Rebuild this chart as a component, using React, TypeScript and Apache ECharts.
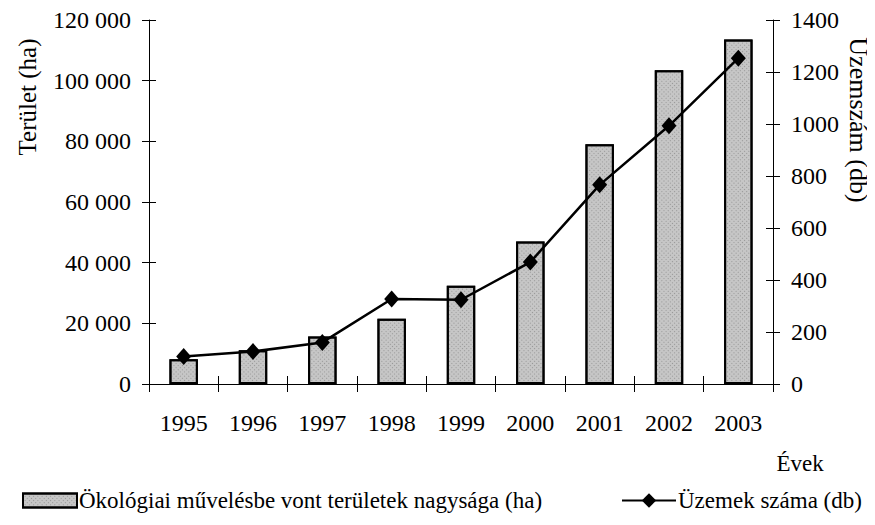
import React, { useEffect, useRef } from 'react';
import * as echarts from 'echarts';

const years = ['1995', '1996', '1997', '1998', '1999', '2000', '2001', '2002', '2003'];
const areaHa = [8200, 11100, 15700, 21500, 32400, 47000, 79000, 103400, 113600];
const farms = [106, 125, 160, 327, 324, 469, 766, 993, 1253];

const barName = 'Ökológiai művelésbe vont területek nagysága (ha)';
const lineName = 'Üzemek száma (db)';
const leftTitle = 'Terület (ha)';
const rightTitle = 'Üzemszám (db)';
const xTitle = 'Évek';

const FONT = 'Liberation Serif, Times New Roman, serif';

function fmtThousands(v: number): string {
  const s = String(Math.round(v));
  return s.replace(/\B(?=(\d{3})+(?!\d))/g, ' ');
}

export default function App() {
  const ref = useRef<HTMLDivElement>(null);
  useEffect(() => {
    if (!ref.current) return;
    const chart = echarts.init(ref.current, null, { renderer: 'svg' });
    const axisLine = { show: true, lineStyle: { color: '#000', width: 1 } };
    const grid = { left: 149, right: 102, top: 20, bottom: 141 };
    chart.setOption({
      animation: false,
      backgroundColor: '#fff',
      textStyle: { fontFamily: FONT, color: '#000' },
      grid,
      legend: [
        {
          data: [{ name: barName, icon: 'rect' }],
          left: 17,
          top: 484,
          itemWidth: 54,
          itemHeight: 14,
          itemGap: 0,
          textStyle: { fontFamily: FONT, fontSize: 23, color: '#000', padding: [0, 0, 0, -3] },
        },
        {
          data: [lineName],
          left: 616,
          top: 484,
          itemWidth: 54,
          itemHeight: 18,
          textStyle: { fontFamily: FONT, fontSize: 23, color: '#000', padding: [0, 0, 0, -3] },
        },
      ],
      xAxis: [
        {
          type: 'category',
          data: years,
          position: 'bottom',
          axisLine,
          axisTick: { show: true, length: 8, lineStyle: { color: '#000' } },
          axisLabel: { fontFamily: FONT, fontSize: 24, color: '#000', margin: 27 },
        },
        {
          type: 'category',
          data: years,
          position: 'bottom',
          axisLine: { show: false },
          axisTick: { show: true, inside: true, length: 8, lineStyle: { color: '#000' } },
          axisLabel: { show: false },
        },
      ],
      yAxis: [
        {
          type: 'value',
          min: 0,
          max: 120000,
          interval: 20000,
          position: 'left',
          axisLine,
          axisTick: { show: true, length: 7, lineStyle: { color: '#000' } },
          splitLine: { show: false },
          axisLabel: {
            fontFamily: FONT,
            fontSize: 24,
            color: '#000',
            margin: 18,
            formatter: (v: number) => fmtThousands(v),
          },
        },
        {
          type: 'value',
          min: 0,
          max: 1400,
          interval: 200,
          position: 'right',
          axisLine,
          axisTick: { show: true, length: 7, lineStyle: { color: '#000' } },
          splitLine: { show: false },
          axisLabel: {
            fontFamily: FONT,
            fontSize: 24,
            color: '#000',
            margin: 18,
            formatter: (v: number) => String(v),
          },
        },
        {
          type: 'value',
          min: 0,
          max: 120000,
          interval: 20000,
          position: 'left',
          axisLine: { show: false },
          axisTick: { show: true, inside: true, length: 7, lineStyle: { color: '#000' } },
          splitLine: { show: false },
          axisLabel: { show: false },
        },
        {
          type: 'value',
          min: 0,
          max: 1400,
          interval: 200,
          position: 'right',
          axisLine: { show: false },
          axisTick: { show: true, inside: true, length: 7, lineStyle: { color: '#000' } },
          splitLine: { show: false },
          axisLabel: { show: false },
        },
      ],
      series: [
        {
          name: barName,
          type: 'bar',
          data: areaHa,
          xAxisIndex: 0,
          yAxisIndex: 0,
          barWidth: '41%',
          itemStyle: {
            color: '#c6c6c6',
            borderColor: '#000',
            borderWidth: 2,
            decal: {
              symbol: 'rect',
              symbolSize: 1,
              color: 'rgba(90,90,90,0.45)',
              dashArrayX: [1, 2],
              dashArrayY: [1, 2],
              rotation: Math.PI / 4,
            },
          },
        },
        {
          name: lineName,
          type: 'line',
          data: farms,
          xAxisIndex: 0,
          yAxisIndex: 1,
          symbol: 'diamond',
          symbolSize: [15, 17],
          lineStyle: { color: '#000', width: 2.5 },
          itemStyle: { color: '#000' },
          z: 5,
        },
      ],
      graphic: [
        {
          type: 'text',
          x: 27,
          y: 97,
          rotation: Math.PI / 2,
          style: {
            text: leftTitle,
            fontFamily: FONT,
            fontSize: 25,
            fill: '#000',
            align: 'center',
            verticalAlign: 'middle',
          },
        },
        {
          type: 'text',
          x: 858,
          y: 120,
          rotation: -Math.PI / 2,
          style: {
            text: rightTitle,
            fontFamily: FONT,
            fontSize: 26,
            fill: '#000',
            align: 'center',
            verticalAlign: 'middle',
          },
        },
        {
          type: 'text',
          x: 800,
          y: 463,
          style: {
            text: xTitle,
            fontFamily: FONT,
            fontSize: 23,
            fill: '#000',
            align: 'center',
            verticalAlign: 'middle',
          },
        },
      ],
    });
    return () => chart.dispose();
  }, []);
  return <div ref={ref} style={{ width: 875, height: 525, margin: -8 }} />;
}
